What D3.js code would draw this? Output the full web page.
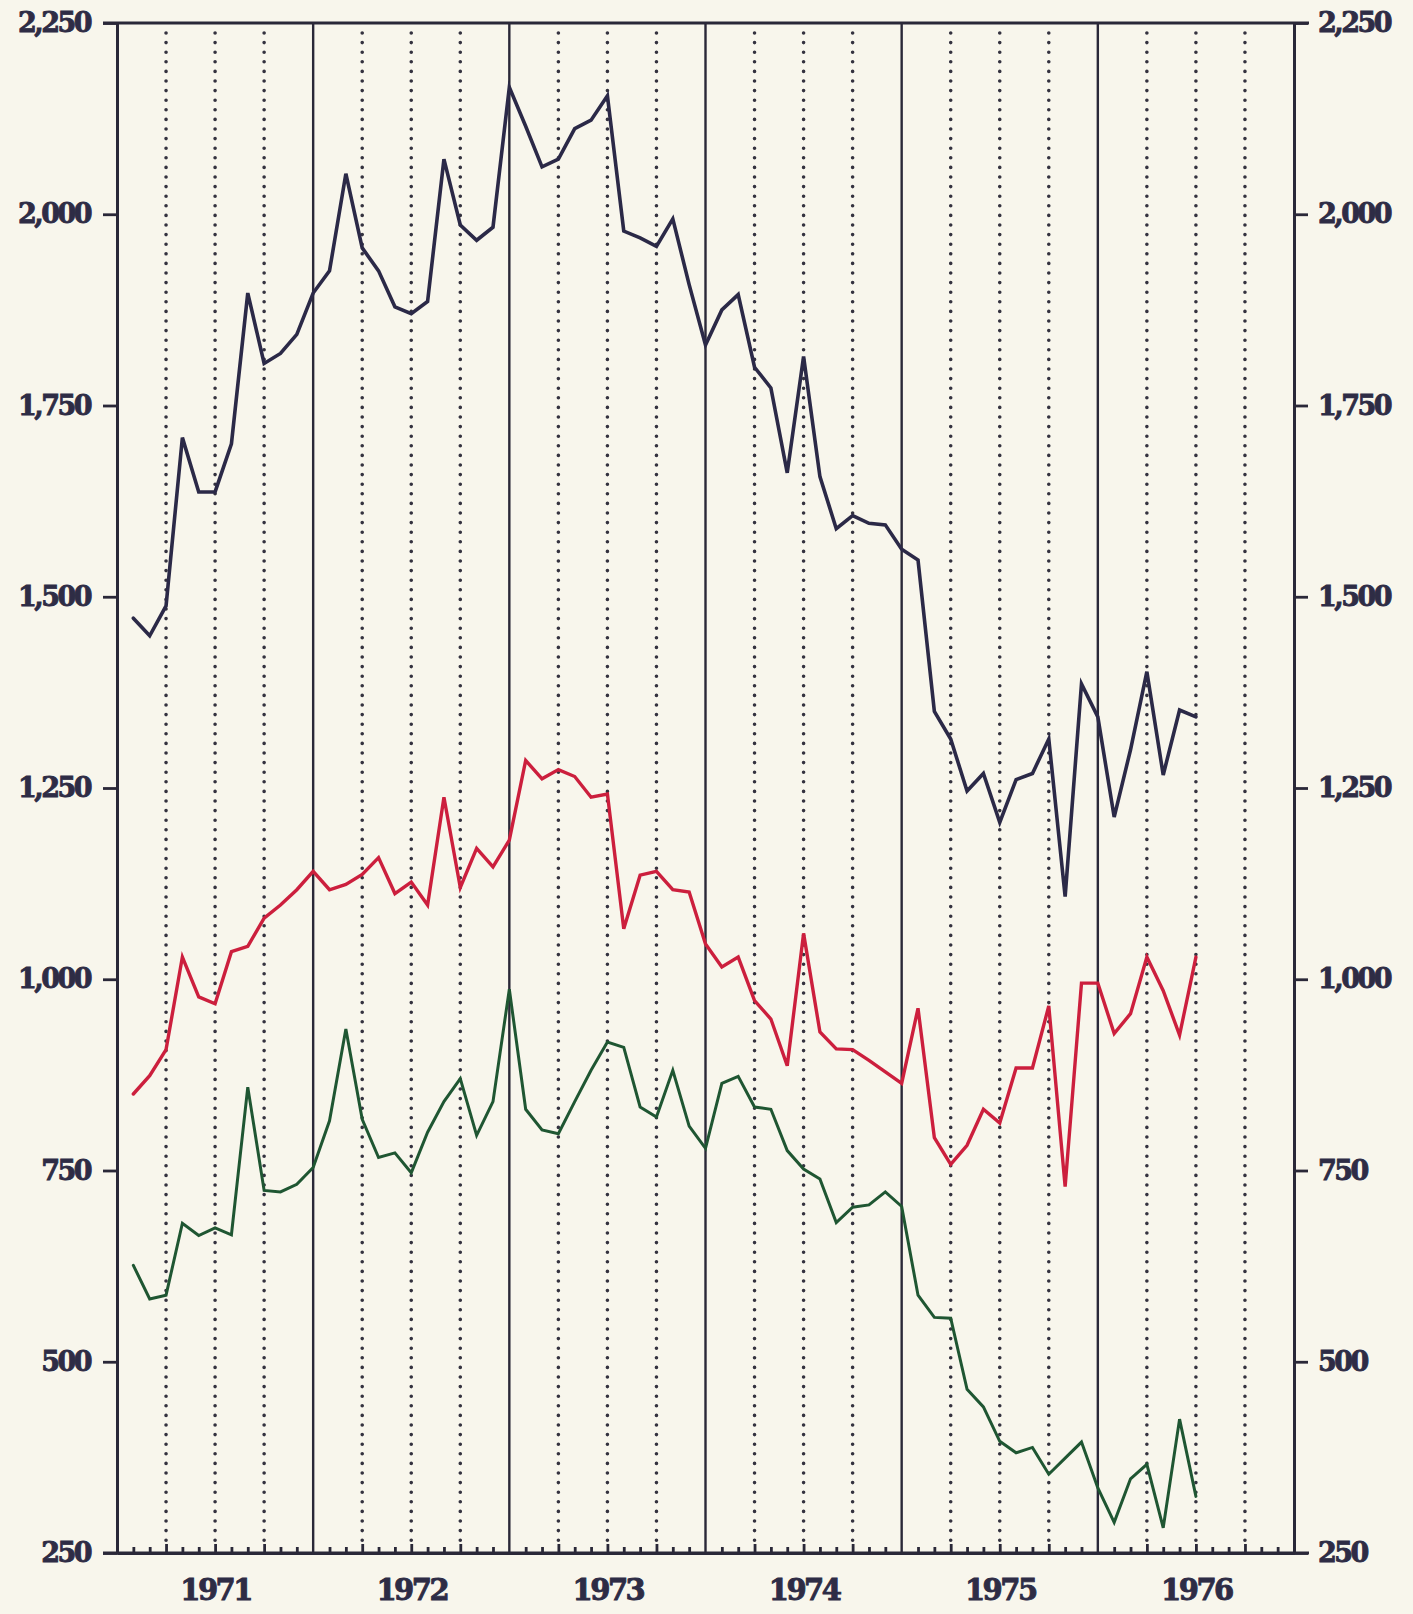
<!DOCTYPE html>
<html>
<head>
<meta charset="utf-8">
<script src="https://cdn.jsdelivr.net/npm/d3@7"></script>
<style>
  body { margin: 0; background: #f8f6ec; }
  svg { display: block; }
  .axis text { font-family: "DejaVu Serif", serif; font-weight: bold; fill: #2e2c45; stroke: #2e2c45; stroke-width: 0.9px; }
</style>
</head>
<body>
<div id="chart"></div>
<script>
// monthly values, first point sits on month 1 (end of Jan 1971), last on month 66 (mid 1976)
var firstMonth = 1;
var navySeries = [1472, 1449, 1488, 1708, 1637, 1637, 1700, 1897, 1805, 1818, 1843, 1897,
  1926, 2053, 1956, 1926, 1879, 1870, 1886, 2072, 1986, 1966, 1983, 2166,
  2115, 2062, 2072, 2112, 2123, 2155, 1978, 1969, 1958, 1994, 1908, 1829,
  1875, 1895, 1800, 1773, 1662, 1814, 1657, 1589, 1606, 1596, 1594, 1562,
  1548, 1350, 1314, 1246, 1269, 1205, 1261, 1269, 1314, 1108, 1386, 1343,
  1212, 1300, 1402, 1267, 1352, 1343];
var redSeries = [850, 874, 908, 1029, 977, 968, 1036, 1043, 1080, 1097, 1117, 1141,
  1117, 1124, 1137, 1159, 1112, 1127, 1097, 1238, 1120, 1171, 1147, 1182,
  1286, 1262, 1274, 1265, 1238, 1242, 1066, 1136, 1141, 1117, 1114, 1046,
  1016, 1029, 972, 948, 887, 1060, 931, 909, 908, 894, 879, 864,
  962, 793, 758, 783, 830, 812, 884, 884, 965, 729, 995, 995,
  929, 955, 1029, 985, 927, 1029];
var greenSeries = [626, 582, 587, 681, 665, 675, 666, 859, 724, 722, 732, 754,
  815, 935, 817, 767, 773, 747, 800, 840, 870, 796, 840, 987,
  830, 803, 798, 840, 881, 918, 911, 833, 820, 881, 808, 779,
  864, 873, 833, 830, 776, 752, 739, 682, 702, 705, 722, 703,
  587, 558, 557, 464, 441, 396, 381, 388, 353, 374, 395, 335,
  290, 347, 366, 283, 425, 324];

var yTicks = [250, 500, 750, 1000, 1250, 1500, 1750, 2000, 2250];
var years = ["1971", "1972", "1973", "1974", "1975", "1976"];

var width = 1413;
var height = 1614;
var ink = "#2a2838";

var svg = d3.select("#chart")
  .append("svg")
  .attr("width", width)
  .attr("height", height)
  .style("background", "#f8f6ec");

// months 0..72 across the plot
var x = d3.scaleLinear().domain([0, years.length * 12]).range([117, 1294]);
var y = d3.scaleLinear().domain([250, 2250]).range([1553, 23]);

/** vertical grid: dotted at quarters, solid at year breaks */
var quarters = d3.range(3, years.length * 12, 3).filter(m => m % 12 != 0);
var yearBreaks = d3.range(12, years.length * 12, 12);

svg.append("g")
  .selectAll("line")
  .data(quarters)
  .enter()
  .append("line")
  .attr("x1", d => x(d)).attr("x2", d => x(d))
  .attr("y1", y(2250) + 10).attr("y2", y(250) - 4)
  .attr("stroke", "#34323f")
  .attr("stroke-width", 3.6)
  .attr("stroke-linecap", "round")
  .attr("stroke-dasharray", "0 9.6");

svg.append("g")
  .selectAll("line")
  .data(yearBreaks)
  .enter()
  .append("line")
  .attr("x1", d => x(d)).attr("x2", d => x(d))
  .attr("y1", y(2250)).attr("y2", y(250))
  .attr("stroke", ink)
  .attr("stroke-width", 2.4);

/** axes */
var fmt = d3.format(",");

var leftAxis = svg.append("g")
  .attr("class", "axis")
  .attr("transform", `translate(${x(0)},0)`)
  .call(d3.axisLeft(y).tickValues(yTicks).tickSize(14).tickSizeOuter(0).tickPadding(13).tickFormat(fmt));

var rightAxis = svg.append("g")
  .attr("class", "axis")
  .attr("transform", `translate(${x(72)},0)`)
  .call(d3.axisRight(y).tickValues(yTicks).tickSize(14).tickSizeOuter(0).tickPadding(10).tickFormat(fmt));

// month ticks point up into the plot
var monthTicks = d3.range(1, years.length * 12).filter(m => m % 3 != 0);
svg.append("g")
  .attr("class", "axis")
  .attr("transform", `translate(0,${y(250)})`)
  .call(d3.axisBottom(x).tickValues(monthTicks).tickSize(-6).tickSizeOuter(0).tickFormat(""));

svg.append("g")
  .attr("class", "axis")
  .attr("transform", `translate(0,${y(250)})`)
  .call(d3.axisBottom(x).tickValues(quarters).tickSize(-9).tickSizeOuter(0).tickFormat(""));

// year labels centred on each year
svg.append("g")
  .attr("class", "axis years")
  .attr("transform", `translate(0,${y(250)})`)
  .call(d3.axisBottom(x).tickValues(years.map((d, i) => i * 12 + 6)).tickSize(0).tickPadding(26)
    .tickFormat((d, i) => years[i]));

svg.selectAll(".axis .domain").attr("stroke", ink).attr("stroke-width", 3);
svg.selectAll(".axis line").attr("stroke", ink).attr("stroke-width", 2.8);
svg.selectAll(".axis text")
  .style("font-size", "27px")
  .style("letter-spacing", "-2.5px");
svg.selectAll(".years .domain").remove();
svg.selectAll(".years text")
  .style("font-size", "29px")
  .style("letter-spacing", "-2.5px");

// top and bottom frame lines run past the side axes like long ticks
[2250, 250].forEach(v => {
  svg.append("line")
    .attr("x1", x(0) - 14).attr("x2", x(72) + 15)
    .attr("y1", y(v)).attr("y2", y(v))
    .attr("stroke", ink)
    .attr("stroke-width", 3);
});

/** the three series */
var line = d3.line()
  .x((d, i) => x(i + firstMonth))
  .y(d => y(d));

var series = [
  { values: navySeries, color: "#2b2947", w: 3.6 },
  { values: redSeries, color: "#cc1f3d", w: 3.4 },
  { values: greenSeries, color: "#1f5632", w: 3 }
];

svg.append("g")
  .selectAll("path")
  .data(series)
  .enter()
  .append("path")
  .attr("d", d => line(d.values))
  .attr("fill", "none")
  .attr("stroke", d => d.color)
  .attr("stroke-width", d => d.w)
  .attr("stroke-linejoin", "miter")
  .attr("stroke-linecap", "round");
</script>
</body>
</html>
